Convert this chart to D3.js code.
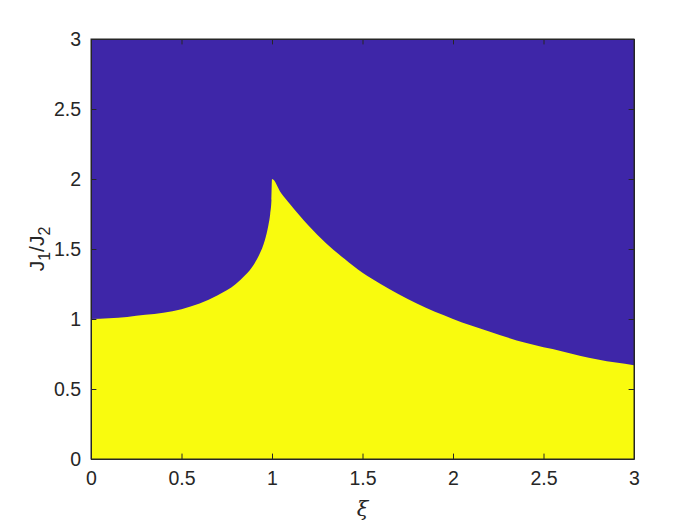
<!DOCTYPE html>
<html>
<head>
<meta charset="utf-8">
<script src="https://cdn.jsdelivr.net/npm/d3@7"></script>
<style>
  body { margin: 0; background: #fff; }
  text { font-family: "Liberation Sans", Arial, sans-serif; fill: #262626; }
  .axis path, .axis line { stroke: #262626; }
</style>
</head>
<body>
<div id="vis"></div>
<script>
// phase boundary: below it is yellow, above it blue
let xi = [0, 0.1, 0.2, 0.3, 0.4, 0.5, 0.6, 0.7, 0.8, 0.85, 0.9, 0.93, 0.96, 0.98, 0.99, 0.997, 1.0,
          1.05, 1.1, 1.2, 1.3, 1.4, 1.5, 1.6, 1.8, 2.0, 2.2, 2.4, 2.6, 2.8, 3.0];
let ratio = [1.00, 1.005, 1.015, 1.03, 1.045, 1.07, 1.11, 1.17, 1.25, 1.31, 1.39, 1.46, 1.56, 1.67, 1.75, 1.85, 2.0,
             1.90, 1.82, 1.67, 1.54, 1.43, 1.33, 1.25, 1.11, 1.00, 0.91, 0.83, 0.77, 0.71, 0.67];
let xTicks = [0, 0.5, 1, 1.5, 2, 2.5, 3];
let yTicks = [0, 0.5, 1, 1.5, 2, 2.5, 3];

let margin = { left: 91, top: 39, right: 66, bottom: 66 };
let width = 700 - margin.left - margin.right;
let height = 525 - margin.top - margin.bottom;

let svg = d3.select('#vis').append('svg')
    .attr('width', 700)
    .attr('height', 525);

let g = svg.append('g')
    .attr('transform', `translate(${margin.left}, ${margin.top})`);

let xScale = d3.scaleLinear().domain([0, 3]).range([0, width]);
let yScale = d3.scaleLinear().domain([0, 3]).range([height, 0]);

let data = xi.map((d, i) => ({ x: d, y: ratio[i] }));

// blue phase fills the whole box
g.append('rect')
    .attr('x', 0).attr('y', 0)
    .attr('width', width).attr('height', height)
    .attr('fill', '#3e26a8');

// yellow phase under the boundary
let area = d3.area()
    .x(d => xScale(d.x))
    .y0(yScale(0))
    .y1(d => yScale(d.y))
    .curve(d3.curveMonotoneX);

g.append('path')
    .datum(data)
    .attr('d', area)
    .attr('fill', '#f9fb0e');

let tick = 5.4;
let fmt = d => d3.format('~g')(d);

g.append('g')
    .attr('class', 'axis')
    .attr('transform', `translate(0, ${height})`)
    .call(d3.axisBottom(xScale).tickValues(xTicks).tickFormat(fmt).tickSizeInner(-tick).tickSizeOuter(0).tickPadding(12));

g.append('g')
    .attr('class', 'axis')
    .call(d3.axisTop(xScale).tickValues(xTicks).tickFormat('').tickSizeInner(-tick).tickSizeOuter(0));

g.append('g')
    .attr('class', 'axis')
    .call(d3.axisLeft(yScale).tickValues(yTicks).tickFormat(fmt).tickSizeInner(-tick).tickSizeOuter(0).tickPadding(10));

g.append('g')
    .attr('class', 'axis')
    .attr('transform', `translate(${width}, 0)`)
    .call(d3.axisRight(yScale).tickValues(yTicks).tickFormat('').tickSizeInner(-tick).tickSizeOuter(0));

g.selectAll('.axis text')
    .style('font-size', '19.5px')
    .style('font-family', '"Liberation Sans", Arial, sans-serif')
    .attr('fill', '#262626');

// box
g.append('rect')
    .attr('x', 0).attr('y', 0)
    .attr('width', width).attr('height', height)
    .attr('fill', 'none')
    .attr('stroke', '#262626')
    .attr('stroke-width', 1);

// x label
svg.append('text')
    .attr('x', margin.left + width / 2)
    .attr('y', 516)
    .attr('text-anchor', 'middle')
    .style('font-family', '"DejaVu Serif", "Liberation Serif", serif')
    .style('font-style', 'italic')
    .style('font-size', '21px')
    .text('ξ');

// y label, J1/J2 with subscripts
let yLabel = svg.append('text')
    .attr('transform', `translate(44, ${margin.top + height / 2}) rotate(-90)`)
    .attr('text-anchor', 'middle')
    .style('font-size', '21px');
yLabel.append('tspan').text('J');
yLabel.append('tspan').attr('dy', 6).style('font-size', '16px').text('1');
yLabel.append('tspan').attr('dy', -6).text('/J');
yLabel.append('tspan').attr('dy', 6).style('font-size', '16px').text('2');
</script>
</body>
</html>
